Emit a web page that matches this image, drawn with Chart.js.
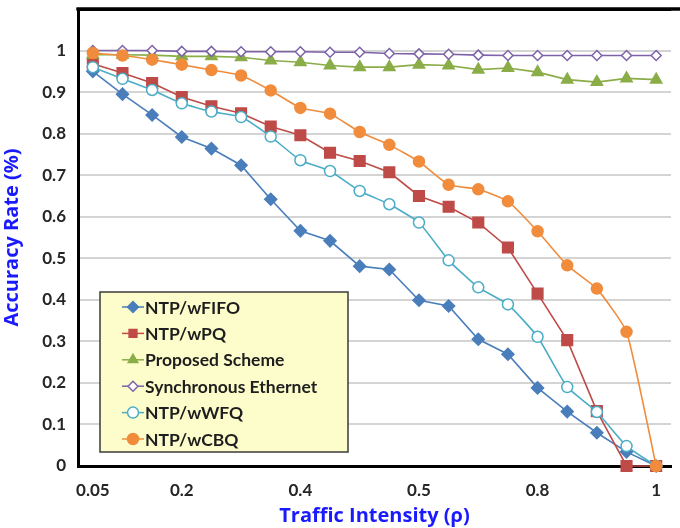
<!DOCTYPE html>
<html>

<head>
  <script src="https://cdn.jsdelivr.net/npm/chart.js@4.4.0/dist/chart.umd.min.js"></script>
  <style>
    html, body { margin: 0; padding: 0; background: #fff; overflow: hidden; }
    canvas { display: block; }
  </style>
</head>

<body>
  <canvas id="myChart" width="680" height="528"></canvas>

  <script type="text/javascript">
    // x categories (traffic intensity) and the labels actually printed under the axis
    var categories = ['0.05', '0.1', '0.15', '0.2', '0.25', '0.3', '0.35', '0.4', '0.45', '0.5',
      '0.55', '0.6', '0.65', '0.7', '0.75', '0.8', '0.85', '0.9', '0.95', '1'];
    var xTickLabels = ['0.05', '', '', '0.2', '', '', '', '0.4', '', '', '', '0.5', '', '', '', '0.8', '', '', '', '1'];

    var fifo = [0.95, 0.895, 0.845, 0.792, 0.764, 0.724, 0.642, 0.566, 0.542, 0.481,
      0.473, 0.399, 0.385, 0.305, 0.269, 0.188, 0.131, 0.08, 0.034, 0];
    var pq = [0.968, 0.946, 0.922, 0.888, 0.866, 0.849, 0.817, 0.796, 0.754, 0.734,
      0.707, 0.65, 0.624, 0.586, 0.526, 0.415, 0.303, 0.132, 0, 0];
    var proposed = [0.99, 0.99, 0.989, 0.986, 0.986, 0.984, 0.976, 0.972, 0.964, 0.96,
      0.96, 0.966, 0.964, 0.954, 0.958, 0.948, 0.93, 0.924, 0.933, 0.93];
    var syncEth = [1, 1, 1, 0.998, 0.998, 0.997, 0.997, 0.997, 0.996, 0.996,
      0.993, 0.992, 0.991, 0.989, 0.988, 0.988, 0.988, 0.988, 0.988, 0.988];
    var wfq = [0.96, 0.932, 0.905, 0.873, 0.853, 0.84, 0.793, 0.736, 0.71, 0.662,
      0.63, 0.586, 0.495, 0.43, 0.389, 0.311, 0.19, 0.13, 0.048, 0];
    var cbq = [0.994, 0.988, 0.978, 0.966, 0.953, 0.94, 0.904, 0.862, 0.848, 0.804,
      0.773, 0.733, 0.677, 0.666, 0.637, 0.565, 0.483, 0.427, 0.323, 0];

    var yTicks = [0, 0.1, 0.2, 0.3, 0.4, 0.5, 0.6, 0.7, 0.8, 0.9, 1, 1.1];

    var series = [
      { label: 'NTP/wFIFO', data: fifo, color: '#4a7ebb', fill: '#4a7ebb', style: 'rectRot', r: 6, tension: 0 },
      { label: 'NTP/wPQ', data: pq, color: '#be4b48', fill: '#be4b48', style: 'rect', r: 7.5, tension: 0 },
      { label: 'Proposed Scheme', data: proposed, color: '#8aad48', fill: '#8aad48', style: 'triangle', r: 6.5, tension: 0 },
      { label: 'Synchronous Ethernet', data: syncEth, color: '#7d62a8', fill: '#ffffff', style: 'rectRot', r: 5, tension: 0 },
      { label: 'NTP/wWFQ', data: wfq, color: '#4bacc6', fill: '#ffffff', style: 'circle', r: 5.5, tension: 0.15 },
      { label: 'NTP/wCBQ', data: cbq, color: '#f08c3c', fill: '#f08c3c', style: 'circle', r: 5.5, tension: 0.15 }
    ];

    var font = 'Lato, "Open Sans", sans-serif';
    var titleFont = '"Open Sans", Lato, sans-serif';

    function topLine(chart) {
      var ctx = chart.ctx, ca = chart.chartArea;
      ctx.save();
      ctx.fillStyle = '#000';
      ctx.fillRect(ca.left - 1.5, ca.top - 1.5, chart.width - ca.left + 2, 3);
      ctx.restore();
    }

    // top frame line + legend box inside the plot, drawn from the dataset styles
    var legendPlugin = {
      id: 'boxLegend',
      afterDatasetsDraw: function(chart) { topLine(chart); },
      afterDraw: function(chart) {
        var ctx = chart.ctx, ca = chart.chartArea;
        var bw = 248, bh = 160;
        var bx = ca.left + 22, by = ca.bottom - 14 - bh;
        ctx.save();
        ctx.fillStyle = '#fdfdcb';
        ctx.fillRect(bx, by, bw, bh);
        ctx.strokeStyle = '#3a3a3a';
        ctx.lineWidth = 1.5;
        ctx.strokeRect(bx, by, bw, bh);

        ctx.font = 'bold 17.5px ' + font;
        ctx.textBaseline = 'middle';
        series.forEach(function(s, i) {
          var y = by + 15 + i * 26.4;
          ctx.strokeStyle = s.color;
          ctx.lineWidth = 1.5;
          ctx.beginPath();
          ctx.moveTo(bx + 22, y);
          ctx.lineTo(bx + 44, y);
          ctx.stroke();
          ctx.fillStyle = s.fill;
          if (Chart.helpers && Chart.helpers.drawPoint) {
            Chart.helpers.drawPoint(ctx, { pointStyle: s.style, radius: Math.min(s.r, 5.5), rotation: 0, borderWidth: 1.5 }, bx + 33, y);
          }
          ctx.fillStyle = '#1e1e1e';
          ctx.fillText(s.label, bx + 45, y + 1);
        });
        ctx.restore();
        topLine(chart);
      }
    };

    var ctx = document.getElementById('myChart').getContext('2d');
    var chart = new Chart(ctx, {
      type: 'line',
      data: {
        labels: categories,
        datasets: series.map(function(s, i) {
          return {
            label: s.label,
            data: s.data,
            borderColor: s.color,
            backgroundColor: s.fill,
            borderWidth: 1.6,
            pointStyle: s.style,
            pointRadius: s.r,
            pointBorderWidth: 1.5,
            pointBorderColor: s.color,
            pointBackgroundColor: s.fill,
            tension: s.tension,
            fill: false,
            clip: false,
            order: series.length - i
          };
        })
      },
      options: {
        responsive: false,
        animation: false,
        layout: { padding: { top: 8, right: -9, left: 0, bottom: 0 } },
        plugins: {
          legend: { display: false },
          tooltip: { enabled: false }
        },
        scales: {
          x: {
            offset: true,
            grid: { display: false },
            border: { color: '#000', width: 3 },
            ticks: {
              autoSkip: false,
              maxRotation: 0,
              padding: 6,
              color: '#262626',
              font: { family: font, size: 17, weight: 'bold' },
              callback: function(v, i) { return xTickLabels[i]; }
            },
            title: {
              display: true,
              text: 'Traffic Intensity (\u03c1)',
              color: '#1a1aff',
              padding: { top: 1, bottom: 0 },
              font: { family: titleFont, size: 20, weight: 'bold' }
            },
            afterFit: function(scale) {
              scale.height = 62;
              scale.paddingLeft = 0;
              scale.paddingRight = 0;
            }
          },
          y: {
            min: 0,
            max: 1.1,
            afterBuildTicks: function(scale) {
              scale.ticks = yTicks.map(function(v) { return { value: v }; });
            },
            grid: {
              color: function(c) {
                if (!c.tick) return 'rgba(0,0,0,0)';
                if (c.tick.value > 1.05) return '#000';
                return c.tick.value > 0 ? '#d4d4d4' : 'rgba(0,0,0,0)';
              },
              lineWidth: function(c) { return c.tick && c.tick.value > 1.05 ? 3 : 2; },
              drawTicks: false
            },
            border: { color: '#000', width: 3 },
            ticks: {
              padding: 12,
              color: '#262626',
              font: { family: font, size: 17, weight: 'bold' },
              callback: function(v) { return v > 1.05 ? '' : String(Math.round(v * 10) / 10); }
            },
            title: {
              display: true,
              text: 'Accuracy Rate (%)',
              color: '#1a1aff',
              padding: { top: 0, bottom: 4 },
              font: { family: titleFont, size: 20, weight: 'bold' }
            },
            afterFit: function(scale) {
              scale.width = 78;
              scale.paddingTop = 0;
              scale.paddingBottom = 0;
            }
          }
        }
      },
      plugins: [legendPlugin]
    });
  </script>
</body>

</html>
